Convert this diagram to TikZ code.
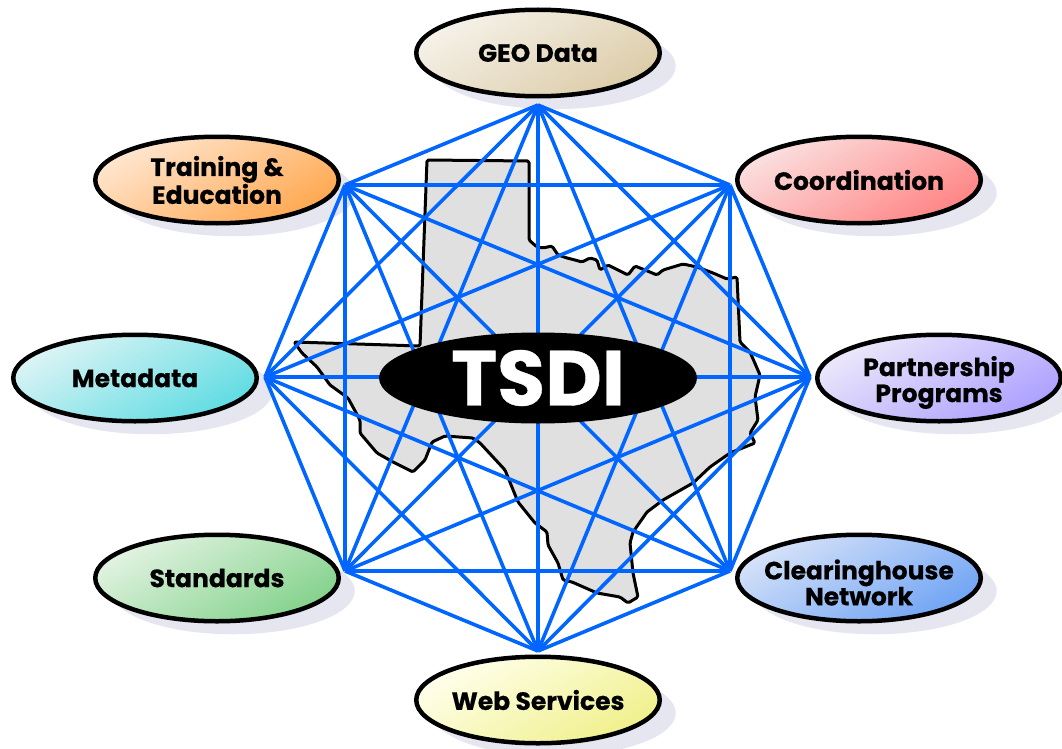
\documentclass[tikz,border=0pt]{standalone}
\usepackage{fontspec}
\setmainfont{Poppins}[BoldFeatures={FakeBold=0.5}]
\usetikzlibrary{shapes.geometric,shadows}
\definecolor{web}{HTML}{0066FF}
\definecolor{state}{HTML}{E0E0E0}
\definecolor{ground}{HTML}{E6E6F0}
\definecolor{geoa}{HTML}{F6F2EA}
\definecolor{geob}{HTML}{DCCCA8}
\definecolor{trainb}{HTML}{FFA850}
\definecolor{traina}{HTML}{FFE6D0}
\definecolor{coora}{HTML}{FBE0E0}
\definecolor{coorb}{HTML}{FF8484}
\definecolor{parta}{HTML}{ECE8FA}
\definecolor{partb}{HTML}{ACA0FF}
\definecolor{metaa}{HTML}{DDF4F5}
\definecolor{metab}{HTML}{5FDCE2}
\definecolor{stana}{HTML}{E2F3E2}
\definecolor{stanb}{HTML}{84D28C}
\definecolor{cleara}{HTML}{D6E2F8}
\definecolor{clearb}{HTML}{70A4F4}
\definecolor{weba}{HTML}{FFFFEC}
\definecolor{webb}{HTML}{F0F08C}
\newcommand{\lowered}{\rule{0pt}{29pt}}

\begin{document}
\begin{tikzpicture}[x=1pt,y=-1pt]
	\tikzstyle{topic} = [
		ellipse, draw = black, line width = 4.5pt, inner xsep = -30pt, inner ysep = -15pt,
		minimum width = 243.5pt, minimum height = 86.5pt,
		align = center, font = \fontsize{25}{26}\selectfont\bfseries,
		drop shadow = {shadow xshift = 16pt, shadow yshift = -13pt, fill = ground, opacity = 1}
	]
	\tikzstyle{line}=[-,draw=web,line width=3.6pt]
	\useasboundingbox (0,0) rectangle (1062,749);
	% the state
	\draw[fill=state,line width=3pt,line join=round,rounded corners=1.5pt]
		(427,160) -- (529,161) -- (529,240) -- (537,247) -- (543,248) -- (552,246)
		-- (558,255) -- (567,258) -- (575,260) -- (582,262) -- (590,258) -- (597,260)
		-- (600,270) -- (608,265) -- (618,270) -- (628,275) -- (635,266) -- (645,270)
		-- (657,275) -- (663,270) -- (683,264) -- (697,267) -- (713,273) -- (727,279)
		-- (737,277) -- (740,342) -- (750,352) -- (760,375) -- (755,397) -- (758,420)
		-- (750,433) -- (755,443) -- (730,453) -- (710,467) -- (693,483) -- (663,500)
		-- (647,512) -- (633,532) -- (630,543) -- (633,573) -- (638,597) -- (628,603)
		-- (620,597) -- (597,593) -- (572,582) -- (563,580) -- (558,563) -- (548,545)
		-- (547,532) -- (535,523) -- (518,502) -- (505,470) -- (480,443) -- (473,438)
		-- (445,436) -- (432,442) -- (425,460) -- (413,472) -- (393,462) -- (377,453)
		-- (360,433) -- (360,420) -- (348,398) -- (330,385) -- (317,367) -- (302,353)
		-- (294,342) -- (420,346) -- cycle;
	% the topics
	\node[topic,top color=geoa,bottom color=geob,shading angle=30] (geodata) at (538,53) {GEO Data};
	\node[topic,top color=traina,bottom color=trainb,shading angle=30] (training) at (217,180) {Training \&\\Education};
	\node[topic,top color=coora,bottom color=coorb,shading angle=30] (coordination) at (859,180) {Coordination};
	\node[topic,top color=parta,bottom color=partb,shading angle=30] (partnership) at (939,378) {\lowered Partnership\\Programs};
	\node[topic,top color=metaa,bottom color=metab,shading angle=30] (metadata) at (135,378) {Metadata};
	\node[topic,top color=stana,bottom color=stanb,shading angle=30] (standards) at (217,578) {Standards};
	\node[topic,top color=cleara,bottom color=clearb,shading angle=30] (clearinghouse) at (859,578) {\lowered Clearinghouse\\Network};
	\node[topic,top color=weba,bottom color=webb,shading angle=30] (webservices) at (538,700) {Web Services};
	% the web
	\coordinate (1) at (538,105);
	\coordinate (2) at (730,185);
	\coordinate (3) at (810,377);
	\coordinate (4) at (730,571);
	\coordinate (5) at (538,651);
	\coordinate (6) at (345,571);
	\coordinate (7) at (265,377);
	\coordinate (8) at (345,185);
	\foreach \a/\others in {1/{2,...,8},2/{3,...,8},3/{4,...,8},4/{5,...,8},5/{6,7,8},6/{7,8},7/{8}}
		\foreach \b in \others
			\draw (\a) to (\b) [line];
	\node[ellipse,fill=black,inner sep=0pt,minimum width=318pt,minimum height=91pt,text=white,font=\fontsize{78}{78}\selectfont\bfseries] (tsdi) at (538,378) {TSDI};
\end{tikzpicture}
\end{document}
